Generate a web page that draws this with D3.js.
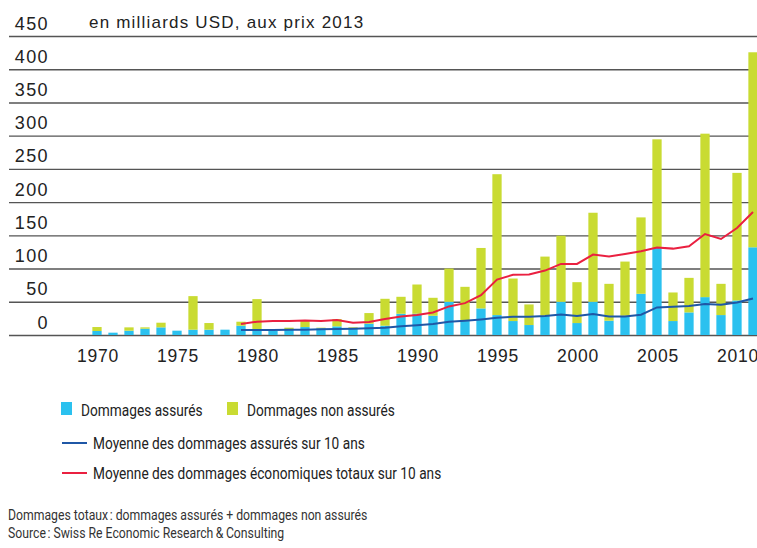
<!DOCTYPE html>
<html>
<head>
<meta charset="utf-8">
<script src="https://cdn.jsdelivr.net/npm/d3@7"></script>
<style>
  body { margin: 0; background: #fff; }
  .tick-y text, .tick-x text { font-family: "Liberation Sans", Arial, sans-serif; fill: #222; }
  .narrow { font-family: "Roboto", sans-serif; }
</style>
</head>
<body>
<div id="chart"></div>
<script>
const years = [1970, 1971, 1972, 1973, 1974, 1975, 1976, 1977, 1978, 1979,
  1980, 1981, 1982, 1983, 1984, 1985, 1986, 1987, 1988, 1989,
  1990, 1991, 1992, 1993, 1994, 1995, 1996, 1997, 1998, 1999,
  2000, 2001, 2002, 2003, 2004, 2005, 2006, 2007, 2008, 2009,
  2010, 2011];

// dommages assurés (milliards USD)
const insured = [6, 3.5, 6.5, 9.5, 11.5, 6.5, 8, 8, 8, 14,
  7, 6, 9, 12, 10, 13, 9, 17, 14, 32,
  32, 29, 50, 21, 40, 30, 21, 15, 29, 50,
  18, 50, 21.5, 29, 62, 131, 21, 34, 57, 30,
  52, 132];

// dommages non assurés
const uninsured = [6, 0, 5, 2, 7, 0, 50.5, 10, 0, 6,
  47, 0, 2, 10, 1, 11, 2.5, 16, 40.5, 25.5,
  44, 27, 50, 51.5, 91, 212, 64, 31, 89, 99.5,
  61.5, 134, 55.5, 81.5, 115, 163.5, 43, 52, 246, 47,
  192, 293.5];

// moyennes sur 10 ans, à partir de 1979
const avgYears = [1979, 1980, 1981, 1982, 1983, 1984, 1985, 1986, 1987, 1988,
  1989, 1990, 1991, 1992, 1993, 1994, 1995, 1996, 1997, 1998,
  1999, 2000, 2001, 2002, 2003, 2004, 2005, 2006, 2007, 2008,
  2009, 2010, 2011];
const avgInsured = [7.5, 7.5, 7.5, 8, 8, 8.5, 9, 9.5, 10, 11,
  13, 14.6, 16.5, 20, 21.5, 23.5, 26, 27.5, 27.5, 28.5,
  31, 28.5, 31.5, 28, 28, 30.5, 41.5, 42.5, 43.5, 46.5,
  45.5, 49, 55];
const avgTotal = [16.5, 20, 21, 21, 22, 21, 22.5, 18.5, 19.5, 24,
  28, 30, 34, 43, 48, 60, 83.5, 90.5, 91, 97,
  107, 107, 121, 118, 122, 126, 131.5, 130, 133.5, 152,
  144.5, 161, 185];

const yTicks = [0, 50, 100, 150, 200, 250, 300, 350, 400, 450];
const xTicks = [1970, 1975, 1980, 1985, 1990, 1995, 2000, 2005, 2010];

const blue = '#2bc1ef';
const green = '#c9db32';
const darkBlue = '#1f57a6';
const red = '#ea2040';

const width = 757;
const height = 548;

const svg = d3.select('#chart').append('svg')
  .attr('width', width)
  .attr('height', height);

const x = d3.scaleBand()
  .domain(years)
  .range([89, 761])
  .paddingInner(0.42)
  .paddingOuter(0.21);

const y = d3.scaleLinear()
  .domain([0, 450])
  .range([335, 36]);

// grid + y labels
const yAxis = svg.append('g')
  .attr('class', 'tick-y')
  .attr('transform', 'translate(9,0)')
  .call(d3.axisLeft(y).tickValues(yTicks).tickSize(-748).tickFormat(d3.format('d')));
yAxis.select('.domain').remove();
yAxis.selectAll('line').attr('stroke', '#555').attr('stroke-width', 1.4);
yAxis.selectAll('text')
  .attr('x', 40)
  .attr('dy', -7)
  .attr('text-anchor', 'end')
  .style('font-size', '18px')
  .style('letter-spacing', '1.4px');

svg.append('text')
  .attr('x', 89)
  .attr('y', 27.5)
  .style('font-family', '"Liberation Sans", Arial, sans-serif')
  .style('font-size', '17px')
  .style('letter-spacing', '1.2px')
  .attr('fill', '#222')
  .text('en milliards USD, aux prix 2013');

// stacked bars
const rows = years.map((yr, i) => ({ year: yr, insured: insured[i], uninsured: uninsured[i] }));
const stack = d3.stack().keys(['insured', 'uninsured']);
const colors = { insured: blue, uninsured: green };

svg.append('g')
  .selectAll('g')
  .data(stack(rows))
  .enter().append('g')
    .attr('fill', d => colors[d.key])
  .selectAll('rect')
  .data(d => d)
  .enter().append('rect')
    .attr('x', d => x(d.data.year))
    .attr('width', x.bandwidth())
    .attr('y', d => y(d[1]))
    .attr('height', d => y(d[0]) - y(d[1]));

// 10-year averages
const line = d3.line()
  .x(d => x(d[0]) + x.bandwidth() / 2)
  .y(d => y(d[1]));

svg.append('path')
  .datum(avgYears.map((yr, i) => [yr, avgInsured[i]]))
  .attr('fill', 'none')
  .attr('stroke', darkBlue)
  .attr('stroke-width', 2)
  .attr('d', line);

svg.append('path')
  .datum(avgYears.map((yr, i) => [yr, avgTotal[i]]))
  .attr('fill', 'none')
  .attr('stroke', red)
  .attr('stroke-width', 2)
  .attr('d', line);

// x axis labels
const xAxis = svg.append('g')
  .attr('class', 'tick-x')
  .attr('transform', 'translate(0,335)')
  .call(d3.axisBottom(x).tickValues(xTicks).tickSize(0));
xAxis.select('.domain').remove();
xAxis.selectAll('text')
  .attr('y', 27)
  .attr('dy', 0)
  .attr('dx', 1)
  .style('font-size', '17.5px')
  .style('letter-spacing', '0.8px');

// condensed text helper (the original face is a narrow grotesque)
const narrowText = (g, tx, ty, sx, str) => g.append('text')
  .attr('transform', `translate(${tx},${ty}) scale(${sx},1)`)
  .text(str);

// legend
const legend = svg.append('g').attr('class', 'narrow').style('font-size', '16.5px').attr('fill', '#222');

legend.append('rect').attr('x', 61).attr('y', 402).attr('width', 11).attr('height', 13).attr('fill', blue);
narrowText(legend, 81, 416, 0.83, 'Dommages assurés');
legend.append('rect').attr('x', 227).attr('y', 402).attr('width', 11).attr('height', 13).attr('fill', green);
narrowText(legend, 247, 416, 0.83, 'Dommages non assurés');

legend.append('line').attr('x1', 62).attr('x2', 87).attr('y1', 443).attr('y2', 443)
  .attr('stroke', darkBlue).attr('stroke-width', 2);
narrowText(legend, 93, 448.5, 0.83, 'Moyenne des dommages assurés sur 10 ans');
legend.append('line').attr('x1', 62).attr('x2', 87).attr('y1', 473).attr('y2', 473)
  .attr('stroke', red).attr('stroke-width', 2);
narrowText(legend, 93, 479, 0.83, 'Moyenne des dommages économiques totaux sur 10 ans');

// notes
const notes = svg.append('g').attr('class', 'narrow').style('font-size', '15.5px').attr('fill', '#333');
narrowText(notes, 8, 519.5, 0.79, 'Dommages totaux\u202F: dommages assurés + dommages non assurés');
narrowText(notes, 8, 538, 0.79, 'Source\u202F: Swiss Re Economic Research\u2009&\u2009Consulting');
</script>
</body>
</html>
